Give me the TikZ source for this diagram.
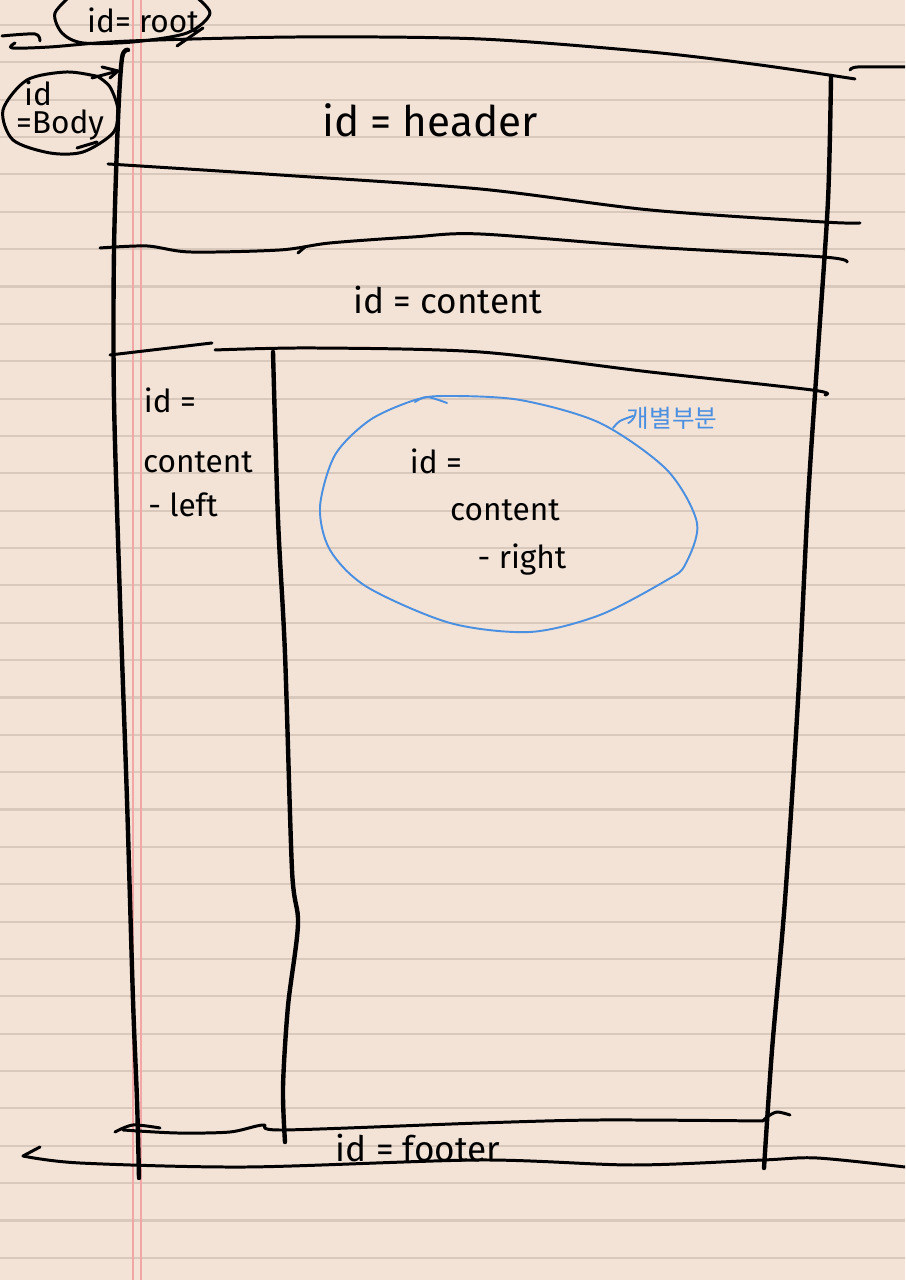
\documentclass[tikz,border=0pt]{standalone}
\usepackage{fontspec}
\setmainfont{Fira Sans}
\newfontfamily\krfont{Noto Sans CJK KR}
\definecolor{paperbg}{HTML}{F3E3D7}
\definecolor{rulegray}{HTML}{D9C8BC}
\definecolor{marginred}{HTML}{F2A6A6}
\definecolor{blueink}{HTML}{4A8FE0}
\tikzset{
  paper/.style={fill=paperbg},
  ruleline/.style={line width=0.6pt, draw=rulegray},
  marginline/.style={line width=0.45pt, draw=marginred},
  pen/.style={line width=0.85pt, draw=black, line cap=round, line join=round},
  penbold/.style={line width=1.25pt, draw=black, line cap=round, line join=round},
  bluepen/.style={line width=0.55pt, draw=blueink, line cap=round, line join=round},
  idlabel/.style={font=\fontsize{12}{14}\selectfont, inner sep=0pt},
  sublabel/.style={font=\fontsize{10}{12}\selectfont, inner sep=0pt},
  smalllabel/.style={font=\fontsize{9}{11}\selectfont, inner sep=0pt},
  bluelabel/.style={font=\krfont\fontsize{7}{9}\selectfont, text=blueink, inner sep=0pt},
}
\begin{document}
\begin{tikzpicture}
\useasboundingbox (0,0) rectangle (9.05,12.8);
\clip (0,0) rectangle (9.05,12.8);
\fill[paper] (0,0) rectangle (9.05,12.8);
\foreach \k in {0,...,33}
  \draw[ruleline] (0,{12.55-0.3736*\k}) -- (9.05,{12.55-0.3736*\k});
\draw[marginline] (1.33,0) -- (1.33,12.8);
\draw[marginline] (1.41,0) -- (1.41,12.8);
\draw[pen] plot[smooth] coordinates {(0.02,12.44) (0.35,12.46) (0.40,12.39)};
\draw[pen] plot[smooth] coordinates {(0.15,12.37) (0.12,12.32) (0.50,12.33) (1.30,12.39) (3.00,12.43) (4.80,12.41) (6.50,12.28) (7.60,12.15) (8.55,12.01)};
\draw[pen] plot[smooth] coordinates {(8.50,12.10) (8.58,12.13) (9.05,12.13)};
\draw[pen] plot[smooth] coordinates {(1.90,12.88) (2.10,12.67) (1.87,12.47) (1.33,12.38) (0.83,12.37) (0.62,12.47) (0.55,12.67) (0.75,12.88)};
\draw[pen] (1.77,12.34) -- (2.03,12.52);
\node[smalllabel] (root) at (1.43,12.60) {id= root};
\draw[pen] plot[smooth] coordinates {(1.00,12.03) (0.67,12.08) (0.27,12.00) (0.03,11.70) (0.13,11.40) (0.50,11.27) (0.83,11.28) (1.13,11.47) (1.18,11.70) (1.10,11.93) (0.97,12.04)};
\draw[pen] (0.77,11.32) -- (0.97,11.38);
\draw[pen] (0.92,12.02) -- (1.18,12.09);
\draw[pen] (1.02,12.13) -- (1.18,12.09) -- (1.10,12.02);
\node[smalllabel] (bodyid) at (0.38,11.87) {id};
\node[smalllabel] (bodyname) at (0.60,11.55) {=Body};
\draw[penbold] plot[smooth] coordinates {(1.28,12.30) (1.22,12.22) (1.18,11.60) (1.14,10.30) (1.14,8.80) (1.20,6.80) (1.27,4.80) (1.33,2.80) (1.37,1.80) (1.39,1.02)};
\draw[penbold] plot[smooth] coordinates {(8.31,12.04) (8.28,10.80) (8.18,9.30) (8.08,7.80) (7.98,5.80) (7.85,3.80) (7.72,2.30) (7.64,1.12)};
\draw[pen] plot[smooth] coordinates {(1.08,11.16) (2.80,11.05) (4.80,10.91) (6.50,10.70) (8.23,10.58) (8.60,10.57)};
\node[idlabel] (header) at (4.30,11.60) {id = header};
\draw[pen] plot[smooth] coordinates {(1.00,10.32) (1.47,10.34) (1.90,10.28) (2.80,10.30) (3.30,10.37) (4.13,10.43) (4.80,10.46) (6.50,10.33) (8.23,10.23) (8.47,10.18)};
\draw[pen] (2.98,10.27) -- (3.05,10.33);
\node[sublabel] (content) at (4.48,9.80) {id = content};
\draw[pen] (1.10,9.25) -- (2.12,9.37);
\draw[pen] plot[smooth] coordinates {(2.15,9.30) (3.13,9.32) (4.80,9.28) (6.50,9.08) (8.12,8.90) (8.25,8.85)};
\draw[penbold] plot[smooth] coordinates {(2.73,9.28) (2.78,7.61) (2.85,6.26) (2.92,4.10) (2.98,3.56) (2.88,2.74) (2.83,1.93) (2.85,1.38)};
\node[smalllabel] (leftid) at (1.70,8.80) {id =};
\node[smalllabel] (leftname) at (1.98,8.18) {content};
\node[smalllabel] (leftpart) at (1.83,7.75) {- left};
\draw[bluepen] plot[smooth cycle] coordinates {(4.47,8.84) (5.20,8.80) (6.00,8.57) (6.67,8.10) (6.97,7.57) (6.85,7.15) (6.67,7.00) (6.00,6.65) (5.30,6.48) (4.50,6.57) (3.67,6.93) (3.30,7.30) (3.20,7.73) (3.35,8.25) (3.70,8.60) (4.15,8.80)};
\draw[bluepen] plot[smooth] coordinates {(4.15,8.78) (4.27,8.83) (4.47,8.77)};
\node[smalllabel] (rightid) at (4.36,8.19) {id =};
\node[smalllabel] (rightname) at (5.05,7.70) {content};
\node[smalllabel] (rightpart) at (5.22,7.20) {- right};
\draw[bluepen] plot[smooth] coordinates {(6.13,8.52) (6.20,8.59) (6.33,8.64)};
\node[bluelabel] (part) at (6.72,8.62) {개별부분};
\draw[pen] plot[smooth] coordinates {(1.15,1.48) (1.33,1.55) (1.60,1.52)};
\draw[pen] plot[smooth] coordinates {(1.23,1.50) (1.77,1.47) (2.30,1.48) (2.63,1.55) (2.83,1.50) (4.80,1.57) (6.00,1.60) (7.63,1.59)};
\draw[pen] plot[smooth] coordinates {(7.63,1.59) (7.67,1.63) (7.77,1.68) (7.90,1.65)};
\draw[pen] (0.40,1.33) -- (0.23,1.24);
\draw[pen] plot[smooth] coordinates {(0.23,1.24) (0.80,1.17) (2.47,1.13) (4.80,1.20) (6.33,1.15) (7.63,1.20) (8.17,1.22) (9.05,1.13)};
\node[sublabel] (footer) at (4.18,1.32) {id = footer};
\end{tikzpicture}
\end{document}
